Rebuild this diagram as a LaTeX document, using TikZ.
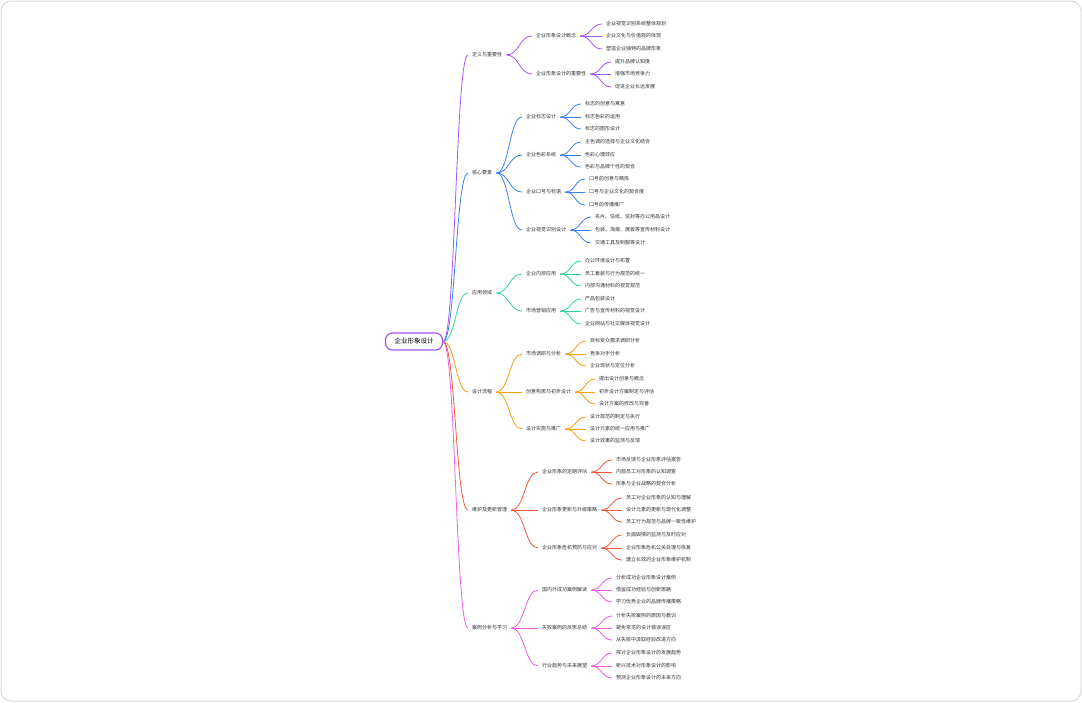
\documentclass[tikz,border=0pt]{standalone}
\usepackage{fontspec}
\setmainfont{Noto Sans CJK SC}
\usetikzlibrary{calc}
\definecolor{cA}{HTML}{A855F7}
\definecolor{cB}{HTML}{3B82F6}
\definecolor{cC}{HTML}{34D399}
\definecolor{cD}{HTML}{F59E0B}
\definecolor{cE}{HTML}{F4583F}
\definecolor{cF}{HTML}{EE5FE4}
\definecolor{txt}{HTML}{333333}
\tikzset{
  lf/.style={anchor=west, inner xsep=4pt, inner ysep=1pt, font=\fontsize{5}{6}\selectfont, text=txt},
  rootn/.style={draw=cA, line width=1.2pt, rounded corners=7pt, fill=white, minimum height=17pt, inner xsep=9pt, font=\fontsize{6.5}{8}\selectfont, text=black},
  lnk/.style={line width=0.8pt},
}
\newcommand\mmlink[3]{%
  \path (#2.east) -- (#3.west) coordinate[pos=0.5] (mmid);
  \draw[lnk,#1] (#2.east) .. controls (mmid |- #2.east) and (mmid |- #3.west) .. (#3.west);}
\newcommand\mmnode[6]{%
  \node[lf] (#3) at ({#4-4},#5) {#6};
  \mmlink{#1}{#2}{#3}}
\begin{document}
\begin{tikzpicture}[x=1pt,y=-1pt]
\useasboundingbox (0,0) rectangle (1082,702);
\draw[black!15, line width=1pt, fill=white, rounded corners=10pt] (1,1) rectangle (1081,701);

\node[rootn] (root) at (414,341.5) {企业形象设计};

% Branch 1
\mmnode{cA}{root}{b1}{472}{55}{定义与重要性}
\mmnode{cA}{b1}{b1a}{536}{36}{企业形象设计概念}
\mmnode{cA}{b1a}{b1a1}{606}{24}{企业视觉识别系统整体规划}
\mmnode{cA}{b1a}{b1a2}{606}{36}{企业文化与价值观的体现}
\mmnode{cA}{b1a}{b1a3}{606}{49}{塑造企业独特的品牌形象}
\mmnode{cA}{b1}{b1b}{536}{74}{企业形象设计的重要性}
\mmnode{cA}{b1b}{b1b1}{615}{62}{提升品牌认知度}
\mmnode{cA}{b1b}{b1b2}{615}{74}{增强市场竞争力}
\mmnode{cA}{b1b}{b1b3}{615}{87}{促进企业长远发展}

% Branch 2
\mmnode{cB}{root}{b2}{472}{173}{核心要素}
\mmnode{cB}{b2}{b2a}{526}{117}{企业标志设计}
\mmnode{cB}{b2a}{b2a1}{585}{104}{标志的创意与寓意}
\mmnode{cB}{b2a}{b2a2}{585}{117}{标志色彩的运用}
\mmnode{cB}{b2a}{b2a3}{585}{129}{标志的图形设计}
\mmnode{cB}{b2}{b2b}{526}{155}{企业色彩系统}
\mmnode{cB}{b2b}{b2b1}{585}{142}{主色调的选择与企业文化结合}
\mmnode{cB}{b2b}{b2b2}{585}{155}{色彩心理效应}
\mmnode{cB}{b2b}{b2b3}{585}{167}{色彩与品牌个性的契合}
\mmnode{cB}{b2}{b2c}{526}{192}{企业口号与标语}
\mmnode{cB}{b2c}{b2c1}{589}{179}{口号的创意与精炼}
\mmnode{cB}{b2c}{b2c2}{589}{192}{口号与企业文化的契合度}
\mmnode{cB}{b2c}{b2c3}{589}{205}{口号的传播推广}
\mmnode{cB}{b2}{b2d}{526}{230}{企业视觉识别设计}
\mmnode{cB}{b2d}{b2d1}{595}{217}{名片、信纸、信封等办公用品设计}
\mmnode{cB}{b2d}{b2d2}{595}{230}{包装、海报、展板等宣传材料设计}
\mmnode{cB}{b2d}{b2d3}{595}{243}{交通工具及制服等设计}

% Branch 3
\mmnode{cC}{root}{b3}{472}{293}{应用领域}
\mmnode{cC}{b3}{b3a}{526}{274}{企业内部应用}
\mmnode{cC}{b3a}{b3a1}{585}{261}{办公环境设计与布置}
\mmnode{cC}{b3a}{b3a2}{585}{274}{员工着装与行为规范的统一}
\mmnode{cC}{b3a}{b3a3}{585}{286}{内部沟通材料的视觉规范}
\mmnode{cC}{b3}{b3b}{526}{311}{市场营销应用}
\mmnode{cC}{b3b}{b3b1}{585}{299}{产品包装设计}
\mmnode{cC}{b3b}{b3b2}{585}{311}{广告与宣传材料的视觉设计}
\mmnode{cC}{b3b}{b3b3}{585}{324}{企业网站与社交媒体视觉设计}

% Branch 4
\mmnode{cD}{root}{b4}{472}{392}{设计流程}
\mmnode{cD}{b4}{b4a}{526}{354}{市场调研与分析}
\mmnode{cD}{b4a}{b4a1}{590}{341}{目标受众需求调研分析}
\mmnode{cD}{b4a}{b4a2}{590}{354}{竞争对手分析}
\mmnode{cD}{b4a}{b4a3}{590}{366}{企业现状与定位分析}
\mmnode{cD}{b4}{b4b}{526}{392}{创意构思与初步设计}
\mmnode{cD}{b4b}{b4b1}{599}{379}{提出设计创意与概念}
\mmnode{cD}{b4b}{b4b2}{599}{392}{初步设计方案制定与评估}
\mmnode{cD}{b4b}{b4b3}{599}{404}{设计方案的修改与完善}
\mmnode{cD}{b4}{b4c}{526}{429}{设计实施与推广}
\mmnode{cD}{b4c}{b4c1}{590}{417}{设计规范的制定与执行}
\mmnode{cD}{b4c}{b4c2}{590}{429}{设计元素的统一应用与推广}
\mmnode{cD}{b4c}{b4c3}{590}{441}{设计效果的监测与反馈}

% Branch 5
\mmnode{cE}{root}{b5}{472}{510}{维护及更新管理}
\mmnode{cE}{b5}{b5a}{542}{472}{企业形象的定期评估}
\mmnode{cE}{b5a}{b5a1}{616}{460}{市场反馈与企业形象评估报告}
\mmnode{cE}{b5a}{b5a2}{616}{472}{内部员工对形象的认知调查}
\mmnode{cE}{b5a}{b5a3}{616}{484}{形象与企业战略的契合分析}
\mmnode{cE}{b5}{b5b}{542}{510}{企业形象更新与升级策略}
\mmnode{cE}{b5b}{b5b1}{626}{498}{员工对企业形象的认知与理解}
\mmnode{cE}{b5b}{b5b2}{626}{510}{设计元素的更新与现代化调整}
\mmnode{cE}{b5b}{b5b3}{626}{522}{员工行为规范与品牌一致性维护}
\mmnode{cE}{b5}{b5c}{542}{548}{企业形象危机预防与应对}
\mmnode{cE}{b5c}{b5c1}{626}{535}{负面舆情的监测与及时应对}
\mmnode{cE}{b5c}{b5c2}{626}{548}{企业形象危机公关处理与恢复}
\mmnode{cE}{b5c}{b5c3}{626}{560}{建立长效的企业形象维护机制}

% Branch 6
\mmnode{cF}{root}{b6}{472}{628}{案例分析与学习}
\mmnode{cF}{b6}{b6a}{542}{590}{国内外成功案例解读}
\mmnode{cF}{b6a}{b6a1}{616}{578}{分析成功企业形象设计案例}
\mmnode{cF}{b6a}{b6a2}{616}{590}{借鉴成功经验与创新思路}
\mmnode{cF}{b6a}{b6a3}{616}{602}{学习优秀企业的品牌传播策略}
\mmnode{cF}{b6}{b6b}{542}{628}{失败案例的反思总结}
\mmnode{cF}{b6b}{b6b1}{616}{616}{分析失败案例的原因与教训}
\mmnode{cF}{b6b}{b6b2}{616}{628}{避免常见的设计错误误区}
\mmnode{cF}{b6b}{b6b3}{616}{640}{从失败中汲取经验改进方向}
\mmnode{cF}{b6}{b6c}{542}{666}{行业趋势与未来展望}
\mmnode{cF}{b6c}{b6c1}{616}{653}{探讨企业形象设计的发展趋势}
\mmnode{cF}{b6c}{b6c2}{616}{666}{新兴技术对形象设计的影响}
\mmnode{cF}{b6c}{b6c3}{616}{678}{预测企业形象设计的未来方向}
\end{tikzpicture}
\end{document}
